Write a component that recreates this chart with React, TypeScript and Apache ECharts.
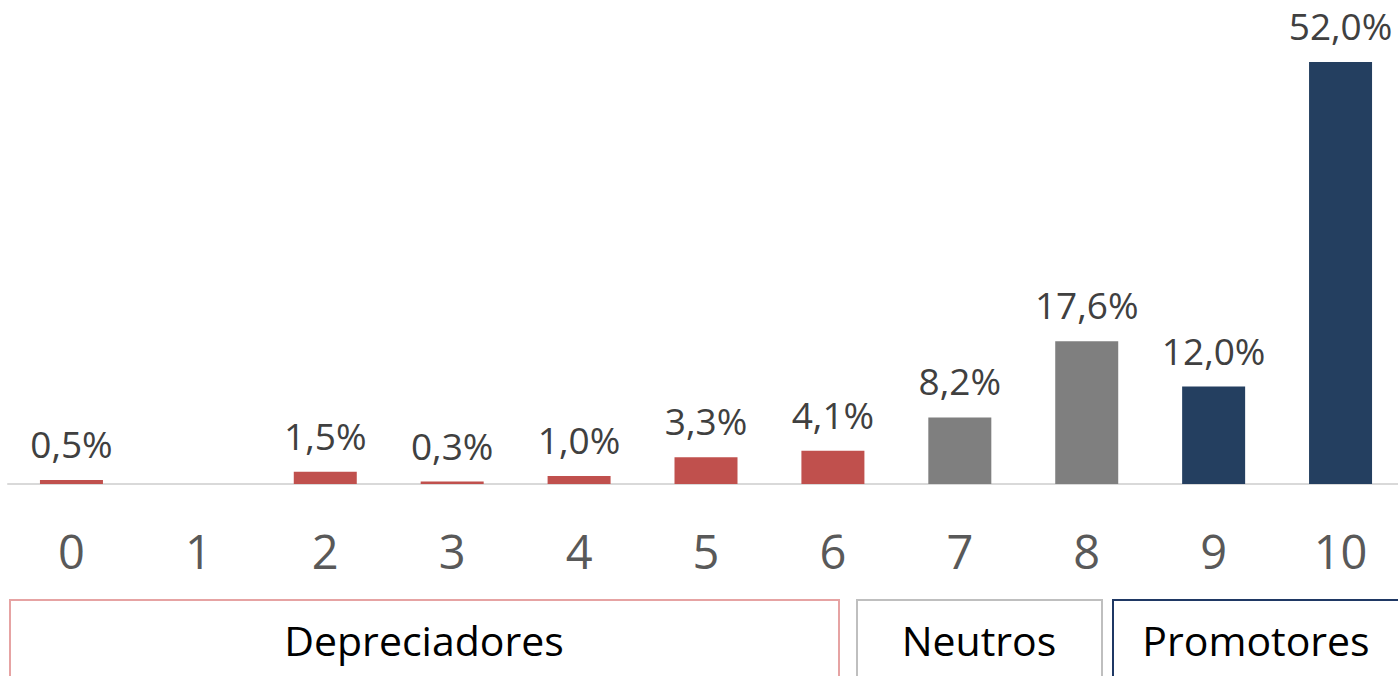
import React, { useEffect, useRef } from "react";
import * as echarts from "echarts";

const categories = ["0", "1", "2", "3", "4", "5", "6", "7", "8", "9", "10"];
const values = [0.5, 0, 1.5, 0.3, 1.0, 3.3, 4.1, 8.2, 17.6, 12.0, 52.0];
const groupOfCategory = ["D", "D", "D", "D", "D", "D", "D", "N", "N", "P", "P"];
const groupNames = { D: "Depreciadores", N: "Neutros", P: "Promotores" };

const barColors: Record<string, string> = { D: "#C0504D", N: "#7F7F7F", P: "#243F60" };
const boxColors: Record<string, string> = { D: "#E6A3A3", N: "#BFBFBF", P: "#1F3864" };
const boxLayout = [
  { g: "D", x: 10, w: 829, tx: 424 },
  { g: "N", x: 857, w: 245, tx: 979 },
  { g: "P", x: 1113, w: 300, tx: 1256 },
];

const FONT = "'Open Sans', 'Noto Sans', sans-serif";

export default function App() {
  const ref = useRef<HTMLDivElement>(null);
  useEffect(() => {
    if (!ref.current) return;
    const chart = echarts.init(ref.current, null, { renderer: "svg" });
    chart.setOption({
      animation: false,
      grid: { left: 8, width: 1396, top: 62, bottom: 192, containLabel: false },
      xAxis: {
        type: "category",
        data: categories,
        axisLine: { show: true, lineStyle: { color: "#D9D9D9", width: 2 } },
        axisTick: { show: false },
        axisLabel: {
          color: "#595959",
          fontSize: 47,
          fontFamily: FONT,
          margin: 43,
        },
      },
      yAxis: {
        type: "value",
        min: 0,
        max: 52,
        show: false,
        splitLine: { show: false },
      },
      series: [
        {
          type: "bar",
          barWidth: 63,
          data: values.map((v, i) => ({
            value: v,
            itemStyle: { color: barColors[groupOfCategory[i]] },
          })),
          label: {
            show: true,
            position: "top",
            distance: 18,
            color: "#404040",
            fontSize: 37,
            fontFamily: FONT,
            formatter: (p: any) =>
              p.value ? p.value.toFixed(1).replace(".", ",") + "%" : "",
          },
        },
      ],
      graphic: boxLayout.map((b) => ({
        type: "group",
        children: [
          {
            type: "rect",
            shape: { x: b.x, y: 600, width: b.w, height: 120 },
            style: { fill: "#fff", stroke: boxColors[b.g], lineWidth: 2 },
          },
          {
            type: "text",
            x: b.tx,
            y: 640,
            style: {
              text: (groupNames as any)[b.g],
              font: `41px ${FONT}`,
              fill: "#000",
              align: "center",
              verticalAlign: "middle",
            },
          },
        ],
      })),
    });
    return () => chart.dispose();
  }, []);
  return (
    <div
      style={{
        position: "absolute",
        left: 0,
        top: 0,
        width: 1398,
        height: 676,
        overflow: "hidden",
      }}
    >
      <div ref={ref} style={{ width: 1412, height: 676 }} />
    </div>
  );
}
